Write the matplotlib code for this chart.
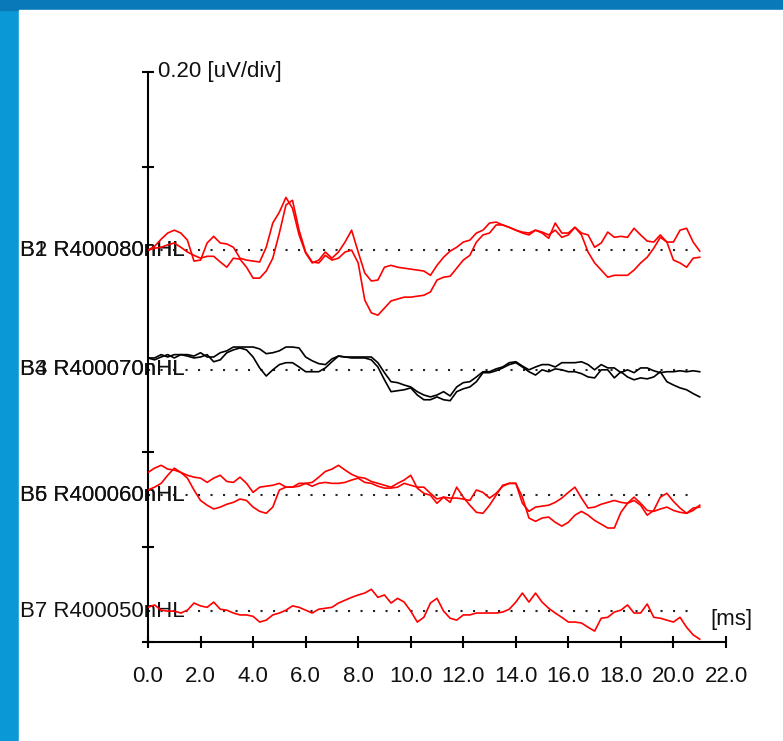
import numpy as np
import matplotlib
matplotlib.use("Agg")
import matplotlib.pyplot as plt
import matplotlib.font_manager as fm
from matplotlib.patches import Rectangle

# time axis [ms], one sample every 0.25 ms
time_ms = np.arange(0, 21.01, 0.25)

# dotted baseline of each pair of traces [uV]
baselines_uv = [0.825, 0.573, 0.309, 0.065]

labels = [
    ["B1 R400080nHL", "B2 R400080nHL"],
    ["B3 R400070nHL", "B4 R400070nHL"],
    ["B5 R400060nHL", "B6 R400060nHL"],
    ["B7 R400050nHL"],
]

trace_colors = ["red", "black", "red", "red"]

# amplitudes relative to the baseline [uV]
b1 = [0.000, 0.008, 0.023, 0.036, 0.042, 0.036, 0.021, -0.023, -0.021, 0.015, 0.029, 0.015, 0.013, 0.006, -0.017,
      -0.021, -0.023, -0.025, 0.006, 0.057, 0.080, 0.111, 0.088, 0.032, -0.006, -0.027, -0.021, -0.004, -0.017,
      -0.004, 0.017, 0.042, -0.004, -0.048, -0.065, -0.063, -0.036, -0.032, -0.036, -0.038, -0.040, -0.042, -0.044,
      -0.053, -0.032, -0.015, -0.002,
      0.006, 0.017, 0.021, 0.036, 0.042, 0.057, 0.059, 0.053, 0.048, 0.042, 0.036, 0.032, 0.042, 0.036, 0.025, 0.057,
      0.036, 0.036, 0.048, 0.036, 0.032, 0.006, 0.015, 0.038, 0.027, 0.029, 0.027, 0.046, 0.032, 0.019, 0.017, 0.032,
      0.017, 0.017, 0.042, 0.046, 0.017, -0.002]
b2 = [0.000, 0.004, 0.006, 0.011, 0.015, 0.006, -0.004, -0.011, -0.017, -0.013, -0.013, -0.025, -0.036, -0.017,
      -0.019, -0.036, -0.059, -0.059, -0.044, -0.017, 0.036, 0.095, 0.105, 0.042, -0.004, -0.025, -0.027, -0.011,
      -0.021, -0.017, -0.004, 0.000, -0.027, -0.105, -0.132, -0.137, -0.122, -0.107, -0.103, -0.099, -0.099, -0.097,
      -0.095, -0.088, -0.063, -0.057, -0.055,
      -0.038, -0.021, -0.011, 0.017, 0.032, 0.036, 0.053, 0.053, 0.048, 0.042, 0.038, 0.036, 0.042, 0.038, 0.032,
      0.042, 0.027, 0.032, 0.048, 0.032, -0.004, -0.027, -0.042, -0.057, -0.053, -0.053, -0.053, -0.042, -0.027,
      -0.015, 0.004, 0.027, 0.017, -0.021, -0.027, -0.036, -0.017, -0.015]
b3 = [0.025, 0.025, 0.032, 0.027, 0.032, 0.032, 0.032, 0.029, 0.036, 0.027, 0.027, 0.036, 0.040, 0.048, 0.048, 0.048,
      0.048, 0.044, 0.034, 0.036, 0.040, 0.048, 0.048, 0.046, 0.027, 0.019, 0.013, 0.011, 0.023, 0.029, 0.027, 0.027,
      0.027, 0.027, 0.027, 0.015, -0.006, -0.025, -0.027, -0.032, -0.036, -0.046, -0.053, -0.057, -0.053, -0.046,
      -0.055,
      -0.036, -0.027, -0.025, -0.015, -0.004, -0.004, 0.002, 0.006, 0.015, 0.017, 0.008, 0.000, 0.006, 0.011, 0.011,
      0.006, 0.015, 0.015, 0.015, 0.017, 0.011, 0.000, 0.011, 0.004, 0.004, -0.006, 0.000, -0.006, 0.004, 0.004,
      -0.002, -0.006, -0.004, -0.004, -0.002, -0.004, -0.002, -0.004]
b4 = [0.025, 0.021, 0.027, 0.032, 0.025, 0.032, 0.029, 0.025, 0.027, 0.032, 0.017, 0.021, 0.036, 0.042, 0.046, 0.042,
      0.027, 0.004, -0.013, 0.000, 0.011, 0.015, 0.015, 0.006, -0.004, -0.004, -0.004, 0.004, 0.017, 0.029, 0.027,
      0.025, 0.025, 0.025, 0.021, 0.006, -0.021, -0.046, -0.044, -0.042, -0.038, -0.053, -0.063, -0.063, -0.057,
      -0.063, -0.065,
      -0.046, -0.040, -0.036, -0.025, -0.006, -0.006, -0.002, 0.004, 0.011, 0.015, 0.006, -0.004, -0.011, 0.000,
      -0.004, 0.002, 0.000, -0.004, -0.004, -0.008, -0.015, -0.017, 0.000, 0.000, -0.017, -0.004, -0.015, -0.021,
      -0.017, -0.019, -0.015, -0.004, -0.025, -0.032, -0.038, -0.042, -0.050, -0.057]
b5 = [0.048, 0.057, 0.063, 0.055, 0.053, 0.048, 0.042, 0.038, 0.036, 0.027, 0.036, 0.042, 0.029, 0.027, 0.038, 0.025,
      0.006, 0.017, 0.019, 0.021, 0.025, 0.017, 0.017, 0.025, 0.025, 0.019, 0.025, 0.027, 0.025, 0.025, 0.027, 0.032,
      0.036, 0.027, 0.025, 0.019, 0.015, 0.015, 0.017, 0.025, 0.021, 0.017, 0.017, 0.004, -0.008, -0.004, -0.006,
      -0.006, -0.008, -0.011, 0.011, 0.006, -0.006, 0.004, 0.019, 0.025, 0.025, -0.017, -0.034, -0.025, -0.023,
      -0.021, -0.015, -0.006, 0.006, 0.017, -0.006, -0.027, -0.025, -0.019, -0.015, -0.011, -0.015, -0.017, -0.004,
      -0.017, -0.032, -0.034, -0.029, -0.025, -0.032, -0.036, -0.038, -0.027, -0.025]
b6 = [0.011, 0.017, 0.025, 0.042, 0.057, 0.048, 0.036, 0.011, -0.011, -0.021, -0.029, -0.025, -0.019, -0.015, -0.008,
      -0.011, -0.025, -0.034, -0.038, -0.025, 0.011, 0.017, 0.017, 0.019, 0.025, 0.027, 0.038, 0.050, 0.055, 0.063,
      0.053, 0.044, 0.038, 0.036, 0.029, 0.025, 0.021, 0.017, 0.025, 0.032, 0.042, 0.015, 0.004, 0.000, -0.017,
      -0.004, -0.015,
      0.017, -0.004, -0.021, -0.036, -0.038, -0.021, 0.000, 0.021, 0.025, 0.025, -0.004, -0.048, -0.055, -0.048,
      -0.046, -0.057, -0.065, -0.057, -0.042, -0.034, -0.042, -0.053, -0.061, -0.069, -0.069, -0.036, -0.017, -0.011,
      -0.021, -0.042, -0.032, -0.004, 0.004, -0.013, -0.027, -0.038, -0.032, -0.021]
b7 = [0.008, 0.013, 0.002, 0.000, 0.000, -0.004, 0.002, 0.017, 0.011, 0.008, 0.019, 0.004, 0.002, -0.004, -0.008,
      -0.008, -0.011, -0.023, -0.019, -0.008, -0.004, 0.002, 0.011, 0.008, 0.002, -0.004, 0.004, 0.006, 0.008, 0.017,
      0.023, 0.029, 0.034, 0.038, 0.046, 0.029, 0.034, 0.017, 0.027, 0.019, 0.000, -0.023, -0.013, 0.017, 0.027,
      0.000, -0.015,
      -0.019, -0.008, -0.008, -0.004, -0.004, -0.004, -0.004, -0.002, 0.004, 0.019, 0.038, 0.019, 0.038, 0.019, 0.006,
      -0.004, -0.013, -0.023, -0.023, -0.025, -0.034, -0.042, -0.015, -0.013, -0.002, 0.002, 0.013, -0.004, -0.004,
      0.015, -0.013, -0.015, -0.019, -0.023, -0.013, -0.034, -0.050, -0.059]

traces = [[b1, b2], [b3, b4], [b5, b6], [b7]]

x_ticks = np.arange(0, 22.1, 2.0)
y_ticks = [0.0, 0.2, 0.4, 1.0, 1.2]


def pick_font():
    names = {f.name for f in fm.fontManager.ttflist}
    if "Liberation Sans Narrow" in names:
        return "Liberation Sans Narrow", 19
    return "Liberation Sans", 16


def draw_background(fig):
    fig.patches.append(Rectangle((0, 0), 1, 1, transform=fig.transFigure,
                                 color="#0b98d6", zorder=-10))
    fig.patches.append(Rectangle((0, 1 - 10 / 741), 1, 10 / 741, transform=fig.transFigure,
                                 color="#0a79b9", zorder=-9))
    fig.patches.append(Rectangle((19 / 783, 0), 1, 1 - 10 / 741, transform=fig.transFigure,
                                 color="white", zorder=-9))


def main():
    font, size = pick_font()
    plt.rcParams["font.family"] = [font, "DejaVu Sans"]

    fig = plt.figure(figsize=(7.83, 7.41), dpi=100)
    draw_background(fig)

    ax = fig.add_axes([148 / 783, 99 / 741, 578 / 783, 570 / 741])
    ax.patch.set_alpha(0)

    for group, base, names, color in zip(traces, baselines_uv, labels, trace_colors):
        ax.plot([0, 20.6], [base, base], color="#222222", linewidth=1.5,
                linestyle=(0, (1, 5)), zorder=2)
        for name in names:
            ax.text(-4.87, base, name, ha="left", va="center", fontsize=size,
                    color="#111111", clip_on=False, zorder=1)
        for values in group:
            ax.plot(time_ms, base + np.array(values), color=color, linewidth=1.2, zorder=3)

    ax.set_xlim(0, 22)
    ax.set_ylim(0, 1.2)

    ax.spines["top"].set_visible(False)
    ax.spines["right"].set_visible(False)
    ax.spines["left"].set_linewidth(1.5)
    ax.spines["bottom"].set_linewidth(1.5)

    ax.set_xticks(x_ticks)
    ax.set_xticklabels([f"{v:.1f}" for v in x_ticks])
    ax.set_yticks(y_ticks)
    ax.set_yticklabels([])
    ax.tick_params(direction="inout", length=8, width=1.5, labelsize=size, pad=13,
                   colors="black", labelcolor="#111111")

    ax.text(0.38, 1.2, "0.20 [uV/div]", ha="left", va="center", fontsize=size,
            color="#111111", clip_on=False)
    ax.text(21.4, 0.048, "[ms]", ha="left", va="center", fontsize=size,
            color="#111111", clip_on=False)

    fig.savefig("out.png", dpi=100)
    plt.close(fig)


if __name__ == "__main__":
    main()
